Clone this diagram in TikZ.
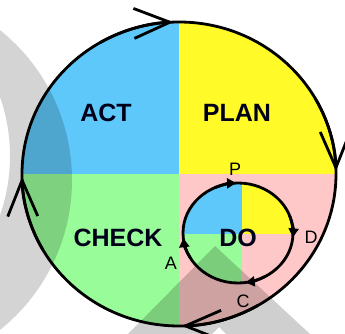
\documentclass[tikz,border=0pt]{standalone}
\usepackage{fontspec}
\setmainfont{Liberation Sans}
\usepackage{xcolor}
\usetikzlibrary{arrows.meta,positioning}

\definecolor{actblue}{RGB}{95,200,250}
\definecolor{planyellow}{RGB}{255,250,40}
\definecolor{checkgreen}{RGB}{152,252,152}
\definecolor{dopink}{RGB}{255,200,200}

\begin{document}
\begin{tikzpicture}[x=1pt,y=1pt,
    phase/.style={font=\bfseries\fontsize{25}{25}\selectfont, text=black!90!blue, inner sep=0pt},
    letter/.style={font=\fontsize{18}{18}\selectfont, inner sep=0pt},
    ring/.style={line width=2.8pt, line cap=round},
    bigtip/.style={-{Straight Barb[length=36pt, width=30pt, line width=2.8pt]}},
    smalltip/.style={-{Triangle[length=9pt, width=10pt]}}]
        \useasboundingbox (0,0) rectangle (345,-334);
        \clip (0,0) rectangle (345,-334);

        % Quadrants of the big cycle
        \begin{scope}
            \clip (179,-174) ellipse [x radius=157, y radius=152];
            \fill[actblue] (20,-20) rectangle (179,-174);
            \fill[planyellow] (179,-20) rectangle (340,-174);
            \fill[checkgreen] (20,-174) rectangle (179,-330);
            \fill[dopink] (179,-174) rectangle (340,-330);
        \end{scope}

        % Quadrants of the small cycle
        \begin{scope}
            \clip (238,-233) ellipse [x radius=55, y radius=50];
            \fill[actblue] (180,-180) rectangle (242,-234);
            \fill[planyellow] (242,-180) rectangle (296,-234);
            \fill[checkgreen] (180,-234) rectangle (242,-286);
        \end{scope}

        % Big cycle
        \draw[ring] (179,-174) ellipse [x radius=157, y radius=152];
        \foreach \s/\e in {120/92, 30/1, -60/-89, 210/181}
            \draw[ring, bigtip] (179,-174) ++(\s:157 and 152) arc[start angle=\s, end angle=\e, x radius=157, y radius=152];

        % Small cycle
        \draw[ring] (238,-233) ellipse [x radius=55, y radius=50];
        \foreach \s/\e in {115/92, 20/-5, -60/-82, 210/186}
            \draw[ring, smalltip] (238,-233) ++(\s:55 and 50) arc[start angle=\s, end angle=\e, x radius=55, y radius=50];

        % Labels
        \node[phase] (act) at (106,-113) {ACT};
        \node[phase] (plan) at (237,-113) {PLAN};
        \node[phase] (check) at (118,-238) {CHECK};
        \node[phase] (dolbl) at (238,-238) {DO};
        \node[letter] (p) at (235,-169) {P};
        \node[letter] (d) at (311,-237) {D};
        \node[letter] (c) at (243,-301) {C};
        \node[letter] (a) at (171,-263) {A};

        % Watermark
        \fill[black, opacity=0.17, even odd rule] (-120,-180) circle (192) (-169,-156) circle (179);
        \fill[black, opacity=0.19] (128,-334) -- (215,-246) -- (310,-334) -- (226,-334) -- (219,-327) -- (212,-334) -- cycle;
\end{tikzpicture}
\end{document}
